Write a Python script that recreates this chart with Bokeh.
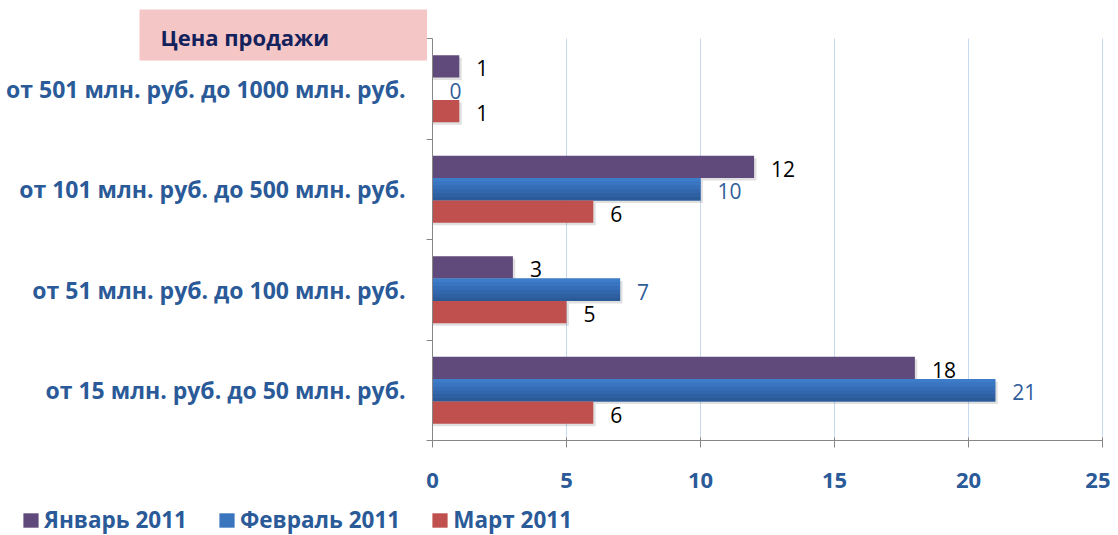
from bokeh.plotting import figure
from bokeh.models import (FixedTicker, Label, Legend, LegendItem, ColumnDataSource,
                          LinearAxis, Range1d)
from bokeh.core.properties import value
from bokeh.embed import file_html
from bokeh.resources import INLINE

categories = ["от 15 млн. руб. до 50 млн. руб.",
              "от 51 млн. руб. до 100 млн. руб.",
              "от 101 млн. руб. до 500 млн. руб.",
              "от 501 млн. руб. до 1000 млн. руб."]
series_names = ["Январь 2011", "Февраль 2011", "Март 2011"]
jan = [18, 3, 12, 1]
feb = [21, 7, 10, 0]
mar = [6, 5, 6, 1]
x_ticks = [0, 5, 10, 15, 20, 25]
title_text = "Цена продажи"

colors = ["#604A7B", "#3A75BE", "#C0504D"]
feb_gradient = ["#3D7CC8", "#3975C0", "#356EB7", "#3267AD", "#2E60A2", "#2B5A98"]
label_colors = ["#000000", "#2F5D9A", "#000000"]
blue_text = "#2A5A98"
FONT = "Open Sans"

# layout in pixels: the plotting area of the chart inside a full-canvas frame
W, H = 1110, 535
PX_LEFT, PX_RIGHT, PX_TOP, PX_BOTTOM = 432, 1102, 38, 440
xmin, xmax = x_ticks[0], x_ticks[-1]
ymin, ymax = 0, len(categories)
sx = (PX_RIGHT - PX_LEFT) / (xmax - xmin)
sy = (PX_BOTTOM - PX_TOP) / (ymax - ymin)
x_range = Range1d(xmin - PX_LEFT / sx, xmax + (W - PX_RIGHT) / sx)
y_range = Range1d(ymin - (H - PX_BOTTOM) / sy, ymax + PX_TOP / sy)

p = figure(width=W, height=H, x_range=x_range, y_range=y_range,
           output_backend="svg", toolbar_location=None, min_border=0)
p.outline_line_color = None
p.background_fill_color = "white"
p.xgrid.visible = False
p.ygrid.visible = False

# light-blue vertical grid lines limited to the plotting area (long inward ticks)
gax = LinearAxis(ticker=FixedTicker(ticks=x_ticks[1:]), fixed_location=ymin,
                 axis_line_color=None, major_tick_line_color="#C6D9F1",
                 major_tick_in=PX_BOTTOM - PX_TOP, major_tick_out=0,
                 minor_tick_line_color=None, major_label_text_color=None,
                 level="underlay")
p.add_layout(gax, "below")

bw = 0.222
offsets = [bw, 0.0, -bw]
centers = [i + 0.5 for i in range(len(categories))]
renderers = []
for k, (vals, col, lc) in enumerate(zip([jan, feb, mar], colors, label_colors)):
    ys = [c + offsets[k] for c in centers]
    # soft shadow
    p.hbar(y=[y - 0.025 for y in ys], right=[v + 0.09 if v > 0 else 0 for v in vals], left=0,
           height=bw, fill_color="#000000", fill_alpha=0.12, line_color=None)
    r = p.hbar(y=ys, right=vals, left=0, height=bw, fill_color=col, line_color=None)
    if k == 1:
        # vertical gradient approximated with thin strips
        n = len(feb_gradient)
        for j, gc in enumerate(feb_gradient):
            p.hbar(y=[y + bw / 2 - bw * (j + 0.5) / n for y in ys], right=vals, left=0,
                   height=bw / n * 1.02, fill_color=gc, line_color=None)
    renderers.append(r)
    src = ColumnDataSource(dict(x=vals, y=ys, t=[str(v) for v in vals]))
    p.text(x="x", y="y", text="t", source=src, x_offset=17, y_offset=2,
           text_font=value(FONT), text_font_size="21px", text_color=lc,
           text_align="left", text_baseline="middle")

# axes
xa = p.xaxis[0]
xa.fixed_location = ymin
xa.bounds = (xmin, xmax)
xa.ticker = FixedTicker(ticks=x_ticks)
xa.axis_line_color = "#868686"
xa.major_tick_line_color = "#868686"
xa.major_tick_in = 3
xa.major_tick_out = 7
xa.minor_tick_line_color = None
xa.major_label_text_font = FONT
xa.major_label_text_font_style = "bold"
xa.major_label_text_font_size = "22px"
xa.major_label_text_color = blue_text
xa.major_label_standoff = 25

ya = p.yaxis[0]
ya.fixed_location = xmin
ya.bounds = (ymin, ymax)
ya.ticker = FixedTicker(ticks=centers, minor_ticks=list(range(ymin, ymax + 1)))
ya.major_label_overrides = {c: cat for c, cat in zip(centers, categories)}
ya.axis_line_color = "#868686"
ya.major_tick_line_color = None
ya.major_tick_in = 0
ya.major_tick_out = 0
ya.minor_tick_line_color = "#868686"
ya.minor_tick_in = 0
ya.minor_tick_out = 6
ya.major_label_standoff = 21
ya.major_label_text_font = FONT
ya.major_label_text_font_style = "bold"
ya.major_label_text_font_size = "23px"
ya.major_label_text_color = blue_text

# title box; padding order is (left, right, top, bottom)
p.add_layout(Label(x=xmin, y=ymax, x_offset=-293, y_offset=3.5, text=title_text,
                   text_font=FONT, text_font_style="bold", text_font_size="22px",
                   text_color="#13225C", text_baseline="middle", text_align="left",
                   background_fill_color="#F5C6C6",
                   padding=(21, 98, 12, 9)))

legend = Legend(items=[LegendItem(label=n, renderers=[r]) for n, r in zip(series_names, renderers)],
                orientation="horizontal", location=(21, 0),
                glyph_width=19, glyph_height=18, label_standoff=4, spacing=30,
                padding=0, margin=0, border_line_color=None, background_fill_alpha=0,
                label_text_font=FONT, label_text_font_style="bold",
                label_text_font_size="22.5px", label_text_color=blue_text)
p.add_layout(legend)

open("out.html", "w").write(file_html(p, INLINE))
